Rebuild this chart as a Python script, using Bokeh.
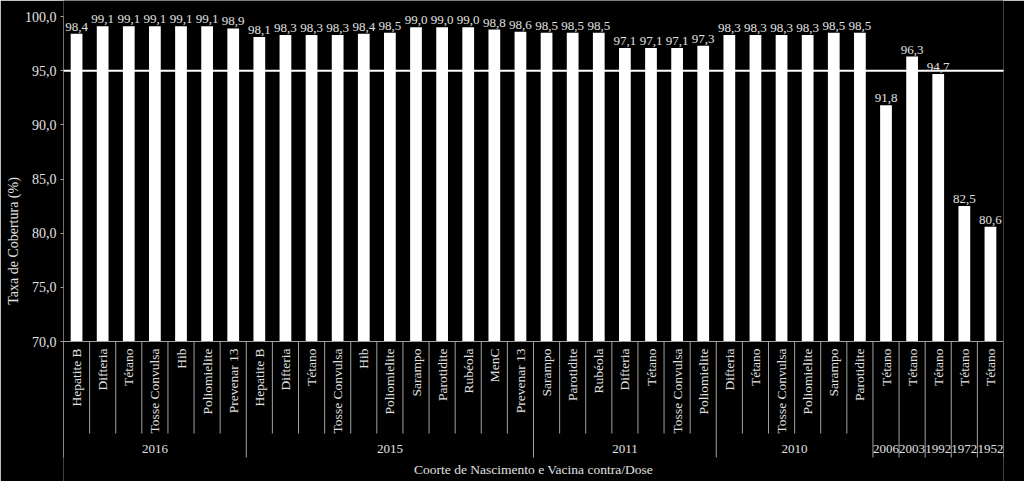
import math
from bokeh.plotting import figure
from bokeh.models import Range1d, FixedTicker, CustomJSTickFormatter, ColumnDataSource
from bokeh.core.properties import value
from bokeh.embed import file_html
from bokeh.resources import INLINE

# ---- data ----
cohorts = ["2016", "2015", "2011", "2010", "2006", "2003", "1992", "1972", "1952"]
vaccines_2016 = ["Hepatite B", "Difteria", "Tétano", "Tosse Convulsa", "Hib", "Poliomielite", "Prevenar 13"]
values_2016 = [98.4, 99.1, 99.1, 99.1, 99.1, 99.1, 98.9]
vaccines_2015 = ["Hepatite B", "Difteria", "Tétano", "Tosse Convulsa", "Hib", "Poliomielite",
                 "Sarampo", "Parotidite", "Rubéola", "MenC", "Prevenar 13"]
values_2015 = [98.1, 98.3, 98.3, 98.3, 98.4, 98.5, 99.0, 99.0, 99.0, 98.8, 98.6]
vaccines_2011 = ["Sarampo", "Parotidite", "Rubéola", "Difteria", "Tétano", "Tosse Convulsa", "Poliomielite"]
values_2011 = [98.5, 98.5, 98.5, 97.1, 97.1, 97.1, 97.3]
vaccines_2010 = ["Difteria", "Tétano", "Tosse Convulsa", "Poliomielite", "Sarampo", "Parotidite"]
values_2010 = [98.3, 98.3, 98.3, 98.3, 98.5, 98.5]
vaccines_old = ["Tétano", "Tétano", "Tétano", "Tétano", "Tétano"]
values_old = [91.8, 96.3, 94.7, 82.5, 80.6]
target = 95.0
y_ticks = [70, 75, 80, 85, 90, 95, 100]

groups = [(cohorts[0], vaccines_2016, values_2016),
          (cohorts[1], vaccines_2015, values_2015),
          (cohorts[2], vaccines_2011, values_2011),
          (cohorts[3], vaccines_2010, values_2010)]
for c, v, val in zip(cohorts[4:], vaccines_old, values_old):
    groups.append((c, [v], [val]))

names, vals, xs = [], [], []
group_bounds = []
i = 0
for c, vs, vv in groups:
    start = i
    for n, v in zip(vs, vv):
        names.append(n)
        vals.append(v)
        xs.append(i + 0.5)
        i += 1
    group_bounds.append((c, start, i))
N = i

# ---- layout ----
W, H = 1024, 481
left, right = 63, 21
px_per_unit = 325 / 30.0
y70_px = 341
y_start = 70 - (H - y70_px) / px_per_unit
y_end = 100 + 16 / px_per_unit

def dy(px):
    return px / px_per_unit

TXT = "#e0e0e0"
GRID = "#a0a0a0"
FONT = "Liberation Serif"

p = figure(width=W, height=H, output_backend="svg", toolbar_location=None,
           x_range=Range1d(0, N), y_range=Range1d(y_start, y_end),
           x_axis_location=None, min_border_left=left, min_border_right=right,
           min_border_top=0, min_border_bottom=0, outline_line_color=None,
           background_fill_color="black", border_fill_color="black")
p.grid.visible = False

ax = p.yaxis[0]
ax.ticker = FixedTicker(ticks=y_ticks)
ax.formatter = CustomJSTickFormatter(code="return tick.toFixed(1).replace('.', ',');")
ax.axis_line_color = None
ax.major_tick_line_color = GRID
ax.major_tick_in = 0
ax.major_tick_out = 3
ax.major_label_standoff = 4
ax.minor_tick_line_color = None
ax.major_label_text_color = TXT
ax.major_label_text_font = FONT
ax.major_label_text_font_size = "14px"
ax.axis_label = "Taxa de Cobertura (%)"
ax.axis_label_text_color = TXT
ax.axis_label_text_font = FONT
ax.axis_label_text_font_size = "14px"
ax.axis_label_text_font_style = "normal"
ax.axis_label_standoff = 1

src = ColumnDataSource(dict(x=xs, top=vals, name=names,
                            lab=[("%.1f" % v).replace(".", ",") for v in vals]))
p.vbar(x="x", top="top", bottom=70, width=0.45, source=src,
       fill_color="white", line_color=None)

# axes lines
p.segment(x0=[0], y0=[y_start + dy(24)], x1=[0], y1=[100], line_color=GRID, line_width=1)
p.segment(x0=[0], y0=[70], x1=[N], y1=[70], line_color=GRID, line_width=1)
# target line
p.segment(x0=[0], y0=[target], x1=[N + 0.12], y1=[target], line_color="white", line_width=2)

# bar value labels
p.text(x="x", y="top", text="lab", source=src, text_align="center", text_baseline="bottom",
       y_offset=-3, text_color=TXT, text_font=value(FONT), text_font_size="13px")

# category labels (rotated)
p.text(x="x", y=70, text="name", source=src, angle=math.pi / 2, text_align="right",
       text_baseline="middle", y_offset=7, text_color=TXT, text_font=value(FONT),
       text_font_size="13.5px")

# separators
inner_x, group_x = [], []
for c, s, e in group_bounds:
    group_x.append(s)
    for k in range(s + 1, e):
        inner_x.append(k)
group_x.append(N)
p.segment(x0=inner_x, y0=[70] * len(inner_x), x1=inner_x, y1=[70 - dy(92)] * len(inner_x),
          line_color=GRID, line_width=1)
p.segment(x0=group_x, y0=[70] * len(group_x), x1=group_x, y1=[70 - dy(116)] * len(group_x),
          line_color=GRID, line_width=1)

# cohort labels
p.text(x=[(s + e) / 2 for c, s, e in group_bounds], y=[70] * len(group_bounds),
       text=[c for c, s, e in group_bounds], text_align="center", text_baseline="middle",
       y_offset=107, text_color=TXT, text_font=value(FONT), text_font_size="13px")

# x title
p.text(x=[N / 2], y=[70], text=["Coorte de Nascimento e Vacina contra/Dose"],
       text_align="center", text_baseline="middle", y_offset=128,
       text_color=TXT, text_font=value(FONT), text_font_size="13.5px")

open("out.html", "w").write(file_html(p, INLINE))
